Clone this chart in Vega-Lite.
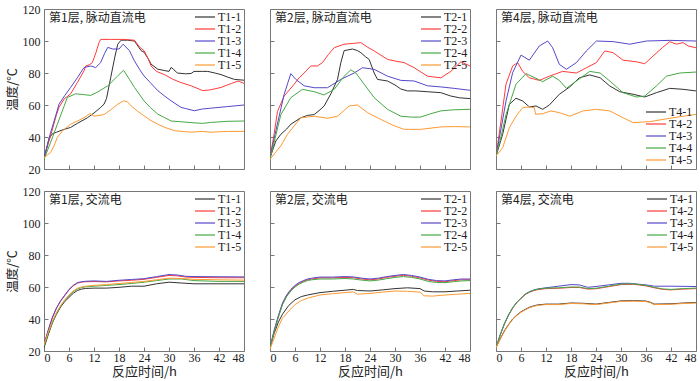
{
  "$schema": "https://vega.github.io/schema/vega-lite/v6.json",
  "padding": {"left": 5, "top": 2, "right": 0, "bottom": 0},
  "background": "white",
  "config": {
    "view": {"stroke": "#777", "strokeWidth": 1},
    "axis": {"domain": false, "grid": false, "tickColor": "#777", "tickSize": -4, "labelPadding": 8, "labelOverlap": false, "tickCount": 20,
      "labelFont": "Liberation Serif", "labelFontSize": 12, "labelColor": "#222",
      "titleFont": "Noto Sans CJK SC", "titleFontSize": 12.5, "titleFontWeight": "normal", "titleColor": "#222", "titlePadding": 3},
    "axisX": {"labelPadding": 5, "titlePadding": 2},
    "legend": {"labelFont": "Liberation Serif", "labelFontSize": 12, "labelColor": "#222", "symbolType": "M-3,0L1,0",
      "symbolSize": 100, "symbolStrokeWidth": 1.2, "rowPadding": -1.7, "padding": 0, "offset": 2, "labelOffset": 2, "title": null}
  },
  "data": {"values": [
    {"p":"a1","s":"T1-1","h":0,"v":26},{"p":"a1","s":"T1-1","h":1.2,"v":39},{"p":"a1","s":"T1-1","h":2,"v":42},{"p":"a1","s":"T1-1","h":3,"v":43},{"p":"a1","s":"T1-1","h":4.5,"v":44.5},{"p":"a1","s":"T1-1","h":6.4,"v":46},{"p":"a1","s":"T1-1","h":8,"v":48.5},{"p":"a1","s":"T1-1","h":10.4,"v":52},{"p":"a1","s":"T1-1","h":12,"v":55},{"p":"a1","s":"T1-1","h":13.6,"v":58.5},{"p":"a1","s":"T1-1","h":14.4,"v":60.5},{"p":"a1","s":"T1-1","h":15,"v":64},{"p":"a1","s":"T1-1","h":16,"v":77},{"p":"a1","s":"T1-1","h":17,"v":90},{"p":"a1","s":"T1-1","h":17.7,"v":98},{"p":"a1","s":"T1-1","h":18.5,"v":100.5},{"p":"a1","s":"T1-1","h":20,"v":100.5},{"p":"a1","s":"T1-1","h":21.7,"v":100},{"p":"a1","s":"T1-1","h":23.3,"v":94},{"p":"a1","s":"T1-1","h":24,"v":93},{"p":"a1","s":"T1-1","h":25,"v":89},{"p":"a1","s":"T1-1","h":25.7,"v":85.5},{"p":"a1","s":"T1-1","h":27.3,"v":82.4},{"p":"a1","s":"T1-1","h":29,"v":81.5},{"p":"a1","s":"T1-1","h":30,"v":81},{"p":"a1","s":"T1-1","h":30.5,"v":83.5},{"p":"a1","s":"T1-1","h":31,"v":82.5},{"p":"a1","s":"T1-1","h":32,"v":80},{"p":"a1","s":"T1-1","h":34,"v":79.5},{"p":"a1","s":"T1-1","h":35.3,"v":79.7},{"p":"a1","s":"T1-1","h":36,"v":81},{"p":"a1","s":"T1-1","h":38,"v":81},{"p":"a1","s":"T1-1","h":39.3,"v":81},{"p":"a1","s":"T1-1","h":41,"v":80},{"p":"a1","s":"T1-1","h":42.5,"v":79},{"p":"a1","s":"T1-1","h":44,"v":77.5},{"p":"a1","s":"T1-1","h":45.7,"v":76},{"p":"a1","s":"T1-1","h":48,"v":75.5},
    {"p":"a1","s":"T1-2","h":0,"v":27},{"p":"a1","s":"T1-2","h":1.5,"v":40},{"p":"a1","s":"T1-2","h":3,"v":54},{"p":"a1","s":"T1-2","h":3.6,"v":58.5},{"p":"a1","s":"T1-2","h":4.8,"v":63.7},{"p":"a1","s":"T1-2","h":6.4,"v":67},{"p":"a1","s":"T1-2","h":8,"v":74},{"p":"a1","s":"T1-2","h":9.6,"v":81.3},{"p":"a1","s":"T1-2","h":10,"v":84.4},{"p":"a1","s":"T1-2","h":10.8,"v":85},{"p":"a1","s":"T1-2","h":11.6,"v":86.5},{"p":"a1","s":"T1-2","h":12.5,"v":93},{"p":"a1","s":"T1-2","h":13.2,"v":99},{"p":"a1","s":"T1-2","h":13.6,"v":101},{"p":"a1","s":"T1-2","h":16,"v":101},{"p":"a1","s":"T1-2","h":19,"v":101},{"p":"a1","s":"T1-2","h":21.7,"v":100.5},{"p":"a1","s":"T1-2","h":23,"v":96},{"p":"a1","s":"T1-2","h":24,"v":94},{"p":"a1","s":"T1-2","h":25,"v":89},{"p":"a1","s":"T1-2","h":25.7,"v":84.4},{"p":"a1","s":"T1-2","h":27,"v":81},{"p":"a1","s":"T1-2","h":28.9,"v":79},{"p":"a1","s":"T1-2","h":31,"v":76},{"p":"a1","s":"T1-2","h":32.9,"v":74},{"p":"a1","s":"T1-2","h":35.3,"v":72},{"p":"a1","s":"T1-2","h":38.1,"v":69},{"p":"a1","s":"T1-2","h":40,"v":69.5},{"p":"a1","s":"T1-2","h":42.5,"v":71},{"p":"a1","s":"T1-2","h":45,"v":73.5},{"p":"a1","s":"T1-2","h":46.6,"v":75},{"p":"a1","s":"T1-2","h":48,"v":73.5},
    {"p":"a1","s":"T1-3","h":0,"v":27},{"p":"a1","s":"T1-3","h":1.5,"v":42},{"p":"a1","s":"T1-3","h":3,"v":55},{"p":"a1","s":"T1-3","h":3.6,"v":60.5},{"p":"a1","s":"T1-3","h":5,"v":66},{"p":"a1","s":"T1-3","h":6.4,"v":71},{"p":"a1","s":"T1-3","h":8,"v":77},{"p":"a1","s":"T1-3","h":9.6,"v":83.4},{"p":"a1","s":"T1-3","h":11.2,"v":84.4},{"p":"a1","s":"T1-3","h":12.4,"v":83.4},{"p":"a1","s":"T1-3","h":13.6,"v":86.5},{"p":"a1","s":"T1-3","h":14.5,"v":92},{"p":"a1","s":"T1-3","h":15.3,"v":96},{"p":"a1","s":"T1-3","h":16.5,"v":95},{"p":"a1","s":"T1-3","h":18,"v":95},{"p":"a1","s":"T1-3","h":19,"v":98},{"p":"a1","s":"T1-3","h":20.5,"v":94},{"p":"a1","s":"T1-3","h":21.7,"v":87.6},{"p":"a1","s":"T1-3","h":23,"v":82},{"p":"a1","s":"T1-3","h":24,"v":78.2},{"p":"a1","s":"T1-3","h":25.5,"v":74},{"p":"a1","s":"T1-3","h":27.3,"v":69},{"p":"a1","s":"T1-3","h":29,"v":65.5},{"p":"a1","s":"T1-3","h":30.5,"v":62.6},{"p":"a1","s":"T1-3","h":32.9,"v":58.5},{"p":"a1","s":"T1-3","h":34,"v":57.8},{"p":"a1","s":"T1-3","h":36.1,"v":56.4},{"p":"a1","s":"T1-3","h":38,"v":57.5},{"p":"a1","s":"T1-3","h":40,"v":58},{"p":"a1","s":"T1-3","h":44,"v":59},{"p":"a1","s":"T1-3","h":48,"v":60},
    {"p":"a1","s":"T1-4","h":0,"v":26},{"p":"a1","s":"T1-4","h":1.5,"v":36},{"p":"a1","s":"T1-4","h":3.2,"v":48},{"p":"a1","s":"T1-4","h":4.5,"v":57},{"p":"a1","s":"T1-4","h":5.6,"v":64.7},{"p":"a1","s":"T1-4","h":7.6,"v":67},{"p":"a1","s":"T1-4","h":9.5,"v":66.5},{"p":"a1","s":"T1-4","h":11.2,"v":66},{"p":"a1","s":"T1-4","h":12.8,"v":68},{"p":"a1","s":"T1-4","h":15.3,"v":72},{"p":"a1","s":"T1-4","h":17.7,"v":78.2},{"p":"a1","s":"T1-4","h":19.1,"v":81.7},{"p":"a1","s":"T1-4","h":20.5,"v":76},{"p":"a1","s":"T1-4","h":21.7,"v":71},{"p":"a1","s":"T1-4","h":24,"v":62.6},{"p":"a1","s":"T1-4","h":25.5,"v":58.5},{"p":"a1","s":"T1-4","h":27.3,"v":54.3},{"p":"a1","s":"T1-4","h":30.5,"v":50},{"p":"a1","s":"T1-4","h":33,"v":49.5},{"p":"a1","s":"T1-4","h":35.3,"v":49},{"p":"a1","s":"T1-4","h":38,"v":48.5},{"p":"a1","s":"T1-4","h":40,"v":49.1},{"p":"a1","s":"T1-4","h":44,"v":49.8},{"p":"a1","s":"T1-4","h":48,"v":50},
    {"p":"a1","s":"T1-5","h":0,"v":27},{"p":"a1","s":"T1-5","h":1.6,"v":30.4},{"p":"a1","s":"T1-5","h":2.5,"v":35},{"p":"a1","s":"T1-5","h":3.2,"v":39.8},{"p":"a1","s":"T1-5","h":4.5,"v":44},{"p":"a1","s":"T1-5","h":6.4,"v":48},{"p":"a1","s":"T1-5","h":8,"v":50},{"p":"a1","s":"T1-5","h":9.6,"v":52},{"p":"a1","s":"T1-5","h":11,"v":54.7},{"p":"a1","s":"T1-5","h":12,"v":53},{"p":"a1","s":"T1-5","h":14.4,"v":54},{"p":"a1","s":"T1-5","h":16,"v":57},{"p":"a1","s":"T1-5","h":17.7,"v":60.5},{"p":"a1","s":"T1-5","h":19.1,"v":62.6},{"p":"a1","s":"T1-5","h":20,"v":62},{"p":"a1","s":"T1-5","h":20.9,"v":59.5},{"p":"a1","s":"T1-5","h":22.5,"v":56},{"p":"a1","s":"T1-5","h":24,"v":53.3},{"p":"a1","s":"T1-5","h":25.5,"v":50.5},{"p":"a1","s":"T1-5","h":27.3,"v":48},{"p":"a1","s":"T1-5","h":29,"v":46},{"p":"a1","s":"T1-5","h":31.3,"v":44},{"p":"a1","s":"T1-5","h":33,"v":43.5},{"p":"a1","s":"T1-5","h":35.3,"v":43},{"p":"a1","s":"T1-5","h":38,"v":43.5},{"p":"a1","s":"T1-5","h":40,"v":43},{"p":"a1","s":"T1-5","h":44,"v":43.5},{"p":"a1","s":"T1-5","h":48,"v":43.5},

    {"p":"a2","s":"T2-1","h":0,"v":27},{"p":"a2","s":"T2-1","h":1.4,"v":37.5},{"p":"a2","s":"T2-1","h":2.6,"v":41.7},{"p":"a2","s":"T2-1","h":4,"v":45},{"p":"a2","s":"T2-1","h":5,"v":48},{"p":"a2","s":"T2-1","h":7.4,"v":52},{"p":"a2","s":"T2-1","h":9,"v":53.5},{"p":"a2","s":"T2-1","h":10.6,"v":54},{"p":"a2","s":"T2-1","h":12,"v":57},{"p":"a2","s":"T2-1","h":13,"v":59.4},{"p":"a2","s":"T2-1","h":14.6,"v":67},{"p":"a2","s":"T2-1","h":16.2,"v":76},{"p":"a2","s":"T2-1","h":17,"v":86.5},{"p":"a2","s":"T2-1","h":17.8,"v":94},{"p":"a2","s":"T2-1","h":19.8,"v":95},{"p":"a2","s":"T2-1","h":21,"v":94},{"p":"a2","s":"T2-1","h":21.8,"v":92.7},{"p":"a2","s":"T2-1","h":23,"v":90},{"p":"a2","s":"T2-1","h":23.8,"v":88.5},{"p":"a2","s":"T2-1","h":25,"v":80},{"p":"a2","s":"T2-1","h":25.8,"v":76},{"p":"a2","s":"T2-1","h":28.2,"v":75},{"p":"a2","s":"T2-1","h":30,"v":72.5},{"p":"a2","s":"T2-1","h":31.4,"v":70},{"p":"a2","s":"T2-1","h":33,"v":68.8},{"p":"a2","s":"T2-1","h":35,"v":68.8},{"p":"a2","s":"T2-1","h":37.8,"v":68.3},{"p":"a2","s":"T2-1","h":41,"v":67.7},{"p":"a2","s":"T2-1","h":43.4,"v":65.6},{"p":"a2","s":"T2-1","h":45.5,"v":64.5},{"p":"a2","s":"T2-1","h":48,"v":64},
    {"p":"a2","s":"T2-2","h":0,"v":27},{"p":"a2","s":"T2-2","h":1,"v":42},{"p":"a2","s":"T2-2","h":1.8,"v":56},{"p":"a2","s":"T2-2","h":3.4,"v":65.6},{"p":"a2","s":"T2-2","h":5.8,"v":73},{"p":"a2","s":"T2-2","h":7,"v":77},{"p":"a2","s":"T2-2","h":8.2,"v":80},{"p":"a2","s":"T2-2","h":9.8,"v":84.4},{"p":"a2","s":"T2-2","h":11.4,"v":84.4},{"p":"a2","s":"T2-2","h":12.6,"v":86.5},{"p":"a2","s":"T2-2","h":14,"v":91.5},{"p":"a2","s":"T2-2","h":15.4,"v":95.8},{"p":"a2","s":"T2-2","h":17.8,"v":98},{"p":"a2","s":"T2-2","h":20,"v":98.5},{"p":"a2","s":"T2-2","h":21.8,"v":99},{"p":"a2","s":"T2-2","h":23.5,"v":96},{"p":"a2","s":"T2-2","h":25,"v":93.8},{"p":"a2","s":"T2-2","h":28.2,"v":88.5},{"p":"a2","s":"T2-2","h":30,"v":87.5},{"p":"a2","s":"T2-2","h":32.2,"v":86.5},{"p":"a2","s":"T2-2","h":34.6,"v":83.3},{"p":"a2","s":"T2-2","h":37.8,"v":78},{"p":"a2","s":"T2-2","h":41,"v":77},{"p":"a2","s":"T2-2","h":43.4,"v":81},{"p":"a2","s":"T2-2","h":45.8,"v":87},{"p":"a2","s":"T2-2","h":48,"v":84.4},
    {"p":"a2","s":"T2-3","h":0,"v":27},{"p":"a2","s":"T2-3","h":1.5,"v":45},{"p":"a2","s":"T2-3","h":3.4,"v":66.7},{"p":"a2","s":"T2-3","h":4.3,"v":74},{"p":"a2","s":"T2-3","h":5,"v":79.6},{"p":"a2","s":"T2-3","h":6.2,"v":76},{"p":"a2","s":"T2-3","h":8.2,"v":72},{"p":"a2","s":"T2-3","h":10.6,"v":70.8},{"p":"a2","s":"T2-3","h":13.8,"v":70.8},{"p":"a2","s":"T2-3","h":17,"v":76},{"p":"a2","s":"T2-3","h":20.2,"v":80},{"p":"a2","s":"T2-3","h":22.2,"v":83.3},{"p":"a2","s":"T2-3","h":25,"v":82.3},{"p":"a2","s":"T2-3","h":28.2,"v":78},{"p":"a2","s":"T2-3","h":31.4,"v":75.4},{"p":"a2","s":"T2-3","h":34.6,"v":75},{"p":"a2","s":"T2-3","h":37.8,"v":72},{"p":"a2","s":"T2-3","h":41,"v":71.3},{"p":"a2","s":"T2-3","h":44.2,"v":70.4},{"p":"a2","s":"T2-3","h":48,"v":69.2},
    {"p":"a2","s":"T2-4","h":0,"v":26},{"p":"a2","s":"T2-4","h":1.3,"v":40},{"p":"a2","s":"T2-4","h":2.6,"v":54},{"p":"a2","s":"T2-4","h":5,"v":64.6},{"p":"a2","s":"T2-4","h":7.8,"v":69.8},{"p":"a2","s":"T2-4","h":10.6,"v":68.3},{"p":"a2","s":"T2-4","h":13,"v":66.3},{"p":"a2","s":"T2-4","h":15.4,"v":69.8},{"p":"a2","s":"T2-4","h":17.8,"v":78},{"p":"a2","s":"T2-4","h":19.4,"v":82},{"p":"a2","s":"T2-4","h":20.6,"v":80},{"p":"a2","s":"T2-4","h":22.6,"v":73},{"p":"a2","s":"T2-4","h":25,"v":64.6},{"p":"a2","s":"T2-4","h":28.2,"v":57.3},{"p":"a2","s":"T2-4","h":31.4,"v":53},{"p":"a2","s":"T2-4","h":34,"v":52.4},{"p":"a2","s":"T2-4","h":36.2,"v":52.5},{"p":"a2","s":"T2-4","h":38.5,"v":54.5},{"p":"a2","s":"T2-4","h":41,"v":56.3},{"p":"a2","s":"T2-4","h":44,"v":57},{"p":"a2","s":"T2-4","h":48,"v":57.3},
    {"p":"a2","s":"T2-5","h":0,"v":26},{"p":"a2","s":"T2-5","h":1.5,"v":31},{"p":"a2","s":"T2-5","h":2.6,"v":34.4},{"p":"a2","s":"T2-5","h":4.2,"v":41.7},{"p":"a2","s":"T2-5","h":5.8,"v":47},{"p":"a2","s":"T2-5","h":7.4,"v":52},{"p":"a2","s":"T2-5","h":10.6,"v":53},{"p":"a2","s":"T2-5","h":13.8,"v":51.7},{"p":"a2","s":"T2-5","h":16.2,"v":53},{"p":"a2","s":"T2-5","h":19,"v":59.4},{"p":"a2","s":"T2-5","h":21,"v":60},{"p":"a2","s":"T2-5","h":23.4,"v":55.2},{"p":"a2","s":"T2-5","h":26.6,"v":51},{"p":"a2","s":"T2-5","h":29.8,"v":47},{"p":"a2","s":"T2-5","h":32.2,"v":44.8},{"p":"a2","s":"T2-5","h":36.2,"v":44.8},{"p":"a2","s":"T2-5","h":41,"v":46.3},{"p":"a2","s":"T2-5","h":44,"v":46.5},{"p":"a2","s":"T2-5","h":48,"v":46.3},

    {"p":"a3","s":"T4-1","h":0,"v":28},{"p":"a3","s":"T4-1","h":1.6,"v":41.7},{"p":"a3","s":"T4-1","h":3.2,"v":60.4},{"p":"a3","s":"T4-1","h":4.8,"v":64.2},{"p":"a3","s":"T4-1","h":6.4,"v":62.5},{"p":"a3","s":"T4-1","h":8,"v":58.8},{"p":"a3","s":"T4-1","h":9.6,"v":59.4},{"p":"a3","s":"T4-1","h":11.2,"v":57.3},{"p":"a3","s":"T4-1","h":12.8,"v":60},{"p":"a3","s":"T4-1","h":15.2,"v":66.7},{"p":"a3","s":"T4-1","h":17.7,"v":71.3},{"p":"a3","s":"T4-1","h":20,"v":77},{"p":"a3","s":"T4-1","h":22.5,"v":78.8},{"p":"a3","s":"T4-1","h":25,"v":77},{"p":"a3","s":"T4-1","h":27.3,"v":71.9},{"p":"a3","s":"T4-1","h":29.7,"v":68.3},{"p":"a3","s":"T4-1","h":32.9,"v":66.7},{"p":"a3","s":"T4-1","h":35.7,"v":65},{"p":"a3","s":"T4-1","h":38.5,"v":67.7},{"p":"a3","s":"T4-1","h":41.7,"v":70.4},{"p":"a3","s":"T4-1","h":44.9,"v":69.8},{"p":"a3","s":"T4-1","h":48,"v":68.8},
    {"p":"a3","s":"T4-2","h":0,"v":28},{"p":"a3","s":"T4-2","h":1.2,"v":50},{"p":"a3","s":"T4-2","h":2.4,"v":73},{"p":"a3","s":"T4-2","h":4,"v":84.4},{"p":"a3","s":"T4-2","h":5.2,"v":86.5},{"p":"a3","s":"T4-2","h":6.4,"v":81},{"p":"a3","s":"T4-2","h":8,"v":77},{"p":"a3","s":"T4-2","h":10.4,"v":75.4},{"p":"a3","s":"T4-2","h":12.8,"v":78},{"p":"a3","s":"T4-2","h":16,"v":81},{"p":"a3","s":"T4-2","h":19.3,"v":80},{"p":"a3","s":"T4-2","h":21.7,"v":83.3},{"p":"a3","s":"T4-2","h":24.1,"v":86.5},{"p":"a3","s":"T4-2","h":26.1,"v":93.8},{"p":"a3","s":"T4-2","h":28.1,"v":92.7},{"p":"a3","s":"T4-2","h":30.5,"v":88},{"p":"a3","s":"T4-2","h":33.7,"v":87},{"p":"a3","s":"T4-2","h":35.7,"v":85.8},{"p":"a3","s":"T4-2","h":37.7,"v":90.6},{"p":"a3","s":"T4-2","h":40,"v":96},{"p":"a3","s":"T4-2","h":41.7,"v":99.6},{"p":"a3","s":"T4-2","h":43.3,"v":98},{"p":"a3","s":"T4-2","h":44.9,"v":99},{"p":"a3","s":"T4-2","h":46.1,"v":96.9},{"p":"a3","s":"T4-2","h":48,"v":95.8},
    {"p":"a3","s":"T4-3","h":0,"v":28},{"p":"a3","s":"T4-3","h":1.2,"v":45},{"p":"a3","s":"T4-3","h":2.4,"v":62.5},{"p":"a3","s":"T4-3","h":4,"v":80.2},{"p":"a3","s":"T4-3","h":6,"v":91.2},{"p":"a3","s":"T4-3","h":8,"v":88},{"p":"a3","s":"T4-3","h":10.4,"v":96.9},{"p":"a3","s":"T4-3","h":12.4,"v":100},{"p":"a3","s":"T4-3","h":13.6,"v":95.8},{"p":"a3","s":"T4-3","h":15.2,"v":85.4},{"p":"a3","s":"T4-3","h":16.9,"v":82.3},{"p":"a3","s":"T4-3","h":19.3,"v":86.5},{"p":"a3","s":"T4-3","h":21.7,"v":93.8},{"p":"a3","s":"T4-3","h":24.1,"v":100},{"p":"a3","s":"T4-3","h":28.1,"v":99.6},{"p":"a3","s":"T4-3","h":32.1,"v":98},{"p":"a3","s":"T4-3","h":36.1,"v":100},{"p":"a3","s":"T4-3","h":41.7,"v":100.4},{"p":"a3","s":"T4-3","h":48,"v":100},
    {"p":"a3","s":"T4-4","h":0,"v":28},{"p":"a3","s":"T4-4","h":1.2,"v":40},{"p":"a3","s":"T4-4","h":2.4,"v":54},{"p":"a3","s":"T4-4","h":4.8,"v":73},{"p":"a3","s":"T4-4","h":7.2,"v":79.6},{"p":"a3","s":"T4-4","h":9.6,"v":76.7},{"p":"a3","s":"T4-4","h":11.2,"v":74.6},{"p":"a3","s":"T4-4","h":13.6,"v":78},{"p":"a3","s":"T4-4","h":15.2,"v":75.4},{"p":"a3","s":"T4-4","h":16.9,"v":70.4},{"p":"a3","s":"T4-4","h":19.3,"v":75},{"p":"a3","s":"T4-4","h":22.5,"v":81},{"p":"a3","s":"T4-4","h":25,"v":80},{"p":"a3","s":"T4-4","h":27.3,"v":75},{"p":"a3","s":"T4-4","h":30.5,"v":67.7},{"p":"a3","s":"T4-4","h":33.7,"v":65},{"p":"a3","s":"T4-4","h":35.7,"v":65.6},{"p":"a3","s":"T4-4","h":38.5,"v":71.9},{"p":"a3","s":"T4-4","h":40.9,"v":78},{"p":"a3","s":"T4-4","h":44.1,"v":80},{"p":"a3","s":"T4-4","h":48,"v":80.6},
    {"p":"a3","s":"T4-5","h":0,"v":28},{"p":"a3","s":"T4-5","h":1.6,"v":33.3},{"p":"a3","s":"T4-5","h":3.2,"v":45.8},{"p":"a3","s":"T4-5","h":4.8,"v":53},{"p":"a3","s":"T4-5","h":6.4,"v":58.3},{"p":"a3","s":"T4-5","h":8,"v":58.8},{"p":"a3","s":"T4-5","h":9.2,"v":58.3},{"p":"a3","s":"T4-5","h":9.5,"v":54.2},{"p":"a3","s":"T4-5","h":11.2,"v":54.6},{"p":"a3","s":"T4-5","h":13.2,"v":56.3},{"p":"a3","s":"T4-5","h":15.2,"v":55.2},{"p":"a3","s":"T4-5","h":17.7,"v":53},{"p":"a3","s":"T4-5","h":20.9,"v":56.3},{"p":"a3","s":"T4-5","h":24.1,"v":57.3},{"p":"a3","s":"T4-5","h":27.3,"v":56.3},{"p":"a3","s":"T4-5","h":30.5,"v":52},{"p":"a3","s":"T4-5","h":32.9,"v":49},{"p":"a3","s":"T4-5","h":36.9,"v":49.6},{"p":"a3","s":"T4-5","h":41.7,"v":51.7},{"p":"a3","s":"T4-5","h":48,"v":54.2},

    {"p":"b1","s":"T1-1","h":0,"v":22},{"p":"b1","s":"T1-1","h":1,"v":30},{"p":"b1","s":"T1-1","h":2,"v":37.5},{"p":"b1","s":"T1-1","h":3,"v":43},{"p":"b1","s":"T1-1","h":4,"v":47.5},{"p":"b1","s":"T1-1","h":5,"v":51},{"p":"b1","s":"T1-1","h":6,"v":53.5},{"p":"b1","s":"T1-1","h":7,"v":56},{"p":"b1","s":"T1-1","h":8,"v":57.8},{"p":"b1","s":"T1-1","h":9,"v":58.7},{"p":"b1","s":"T1-1","h":10,"v":59.1},{"p":"b1","s":"T1-1","h":12,"v":59.3},{"p":"b1","s":"T1-1","h":15,"v":59.3},{"p":"b1","s":"T1-1","h":18,"v":59.8},{"p":"b1","s":"T1-1","h":21,"v":60.5},{"p":"b1","s":"T1-1","h":24,"v":60.5},{"p":"b1","s":"T1-1","h":27,"v":62},{"p":"b1","s":"T1-1","h":30,"v":63},{"p":"b1","s":"T1-1","h":33,"v":62.5},{"p":"b1","s":"T1-1","h":36,"v":62},{"p":"b1","s":"T1-1","h":42,"v":62},{"p":"b1","s":"T1-1","h":48,"v":62},
    {"p":"b1","s":"T1-2","h":0,"v":24},{"p":"b1","s":"T1-2","h":1,"v":32.7},{"p":"b1","s":"T1-2","h":2,"v":40.7},{"p":"b1","s":"T1-2","h":3,"v":46.7},{"p":"b1","s":"T1-2","h":4,"v":51.2},{"p":"b1","s":"T1-2","h":5,"v":54.7},{"p":"b1","s":"T1-2","h":6,"v":58.2},{"p":"b1","s":"T1-2","h":7,"v":60.7},{"p":"b1","s":"T1-2","h":8,"v":62.4},{"p":"b1","s":"T1-2","h":9,"v":63},{"p":"b1","s":"T1-2","h":10,"v":63.3},{"p":"b1","s":"T1-2","h":12,"v":63.4},{"p":"b1","s":"T1-2","h":15,"v":63.2},{"p":"b1","s":"T1-2","h":18,"v":63.8},{"p":"b1","s":"T1-2","h":21,"v":64.2},{"p":"b1","s":"T1-2","h":24,"v":64.8},{"p":"b1","s":"T1-2","h":27,"v":66},{"p":"b1","s":"T1-2","h":30,"v":67.2},{"p":"b1","s":"T1-2","h":32,"v":67},{"p":"b1","s":"T1-2","h":34,"v":66.2},{"p":"b1","s":"T1-2","h":36,"v":66},{"p":"b1","s":"T1-2","h":42,"v":65.8},{"p":"b1","s":"T1-2","h":48,"v":65.8},
    {"p":"b1","s":"T1-3","h":0,"v":24},{"p":"b1","s":"T1-3","h":1,"v":33},{"p":"b1","s":"T1-3","h":2,"v":41},{"p":"b1","s":"T1-3","h":3,"v":47},{"p":"b1","s":"T1-3","h":4,"v":51.5},{"p":"b1","s":"T1-3","h":5,"v":55},{"p":"b1","s":"T1-3","h":6,"v":58.5},{"p":"b1","s":"T1-3","h":7,"v":61},{"p":"b1","s":"T1-3","h":8,"v":62.7},{"p":"b1","s":"T1-3","h":9,"v":63.3},{"p":"b1","s":"T1-3","h":10,"v":63.6},{"p":"b1","s":"T1-3","h":12,"v":63.8},{"p":"b1","s":"T1-3","h":15,"v":63.5},{"p":"b1","s":"T1-3","h":18,"v":64.2},{"p":"b1","s":"T1-3","h":21,"v":64.7},{"p":"b1","s":"T1-3","h":24,"v":65.2},{"p":"b1","s":"T1-3","h":27,"v":66.5},{"p":"b1","s":"T1-3","h":30,"v":67.8},{"p":"b1","s":"T1-3","h":32,"v":67.5},{"p":"b1","s":"T1-3","h":34,"v":66.7},{"p":"b1","s":"T1-3","h":36,"v":66.5},{"p":"b1","s":"T1-3","h":42,"v":66.4},{"p":"b1","s":"T1-3","h":48,"v":66.3},
    {"p":"b1","s":"T1-4","h":0,"v":23},{"p":"b1","s":"T1-4","h":1,"v":31},{"p":"b1","s":"T1-4","h":2,"v":38},{"p":"b1","s":"T1-4","h":3,"v":43.5},{"p":"b1","s":"T1-4","h":4,"v":48},{"p":"b1","s":"T1-4","h":5,"v":51.5},{"p":"b1","s":"T1-4","h":6,"v":54.5},{"p":"b1","s":"T1-4","h":7,"v":57},{"p":"b1","s":"T1-4","h":8,"v":58.7},{"p":"b1","s":"T1-4","h":9,"v":59.6},{"p":"b1","s":"T1-4","h":10,"v":60.1},{"p":"b1","s":"T1-4","h":12,"v":60.5},{"p":"b1","s":"T1-4","h":15,"v":61},{"p":"b1","s":"T1-4","h":18,"v":61.5},{"p":"b1","s":"T1-4","h":21,"v":62.2},{"p":"b1","s":"T1-4","h":24,"v":63},{"p":"b1","s":"T1-4","h":27,"v":64},{"p":"b1","s":"T1-4","h":30,"v":65},{"p":"b1","s":"T1-4","h":33,"v":65},{"p":"b1","s":"T1-4","h":36,"v":64},{"p":"b1","s":"T1-4","h":42,"v":63.5},{"p":"b1","s":"T1-4","h":48,"v":63.5},
    {"p":"b1","s":"T1-5","h":0,"v":24},{"p":"b1","s":"T1-5","h":1,"v":31.5},{"p":"b1","s":"T1-5","h":2,"v":38.5},{"p":"b1","s":"T1-5","h":3,"v":44},{"p":"b1","s":"T1-5","h":4,"v":48.5},{"p":"b1","s":"T1-5","h":5,"v":52},{"p":"b1","s":"T1-5","h":6,"v":55},{"p":"b1","s":"T1-5","h":7,"v":57.5},{"p":"b1","s":"T1-5","h":8,"v":59.2},{"p":"b1","s":"T1-5","h":9,"v":60},{"p":"b1","s":"T1-5","h":10,"v":60.5},{"p":"b1","s":"T1-5","h":12,"v":61},{"p":"b1","s":"T1-5","h":15,"v":61.5},{"p":"b1","s":"T1-5","h":18,"v":62.2},{"p":"b1","s":"T1-5","h":21,"v":62.8},{"p":"b1","s":"T1-5","h":24,"v":63.5},{"p":"b1","s":"T1-5","h":27,"v":64.5},{"p":"b1","s":"T1-5","h":30,"v":65.5},{"p":"b1","s":"T1-5","h":33,"v":65.3},{"p":"b1","s":"T1-5","h":36,"v":64.8},{"p":"b1","s":"T1-5","h":42,"v":64.5},{"p":"b1","s":"T1-5","h":48,"v":64.3},

    {"p":"b2","s":"T2-1","h":0,"v":22},{"p":"b2","s":"T2-1","h":1,"v":31},{"p":"b2","s":"T2-1","h":2,"v":38},{"p":"b2","s":"T2-1","h":3,"v":43},{"p":"b2","s":"T2-1","h":4.5,"v":48.5},{"p":"b2","s":"T2-1","h":6,"v":52},{"p":"b2","s":"T2-1","h":7.5,"v":54},{"p":"b2","s":"T2-1","h":9,"v":55},{"p":"b2","s":"T2-1","h":12,"v":56.5},{"p":"b2","s":"T2-1","h":15,"v":57.3},{"p":"b2","s":"T2-1","h":18,"v":58},{"p":"b2","s":"T2-1","h":20,"v":58.5},{"p":"b2","s":"T2-1","h":21,"v":57.8},{"p":"b2","s":"T2-1","h":24,"v":57.5},{"p":"b2","s":"T2-1","h":27,"v":58.2},{"p":"b2","s":"T2-1","h":30,"v":59},{"p":"b2","s":"T2-1","h":33,"v":59.5},{"p":"b2","s":"T2-1","h":36,"v":59},{"p":"b2","s":"T2-1","h":37,"v":57.5},{"p":"b2","s":"T2-1","h":39,"v":57},{"p":"b2","s":"T2-1","h":42,"v":57},{"p":"b2","s":"T2-1","h":45,"v":57.5},{"p":"b2","s":"T2-1","h":48,"v":58},
    {"p":"b2","s":"T2-2","h":0,"v":22},{"p":"b2","s":"T2-2","h":1,"v":32.5},{"p":"b2","s":"T2-2","h":2,"v":41.5},{"p":"b2","s":"T2-2","h":3,"v":49.5},{"p":"b2","s":"T2-2","h":4,"v":54.5},{"p":"b2","s":"T2-2","h":5,"v":58},{"p":"b2","s":"T2-2","h":6,"v":60.5},{"p":"b2","s":"T2-2","h":7,"v":62.3},{"p":"b2","s":"T2-2","h":8,"v":63.5},{"p":"b2","s":"T2-2","h":9,"v":64.5},{"p":"b2","s":"T2-2","h":10,"v":65},{"p":"b2","s":"T2-2","h":12,"v":65.7},{"p":"b2","s":"T2-2","h":15,"v":65.7},{"p":"b2","s":"T2-2","h":18,"v":66},{"p":"b2","s":"T2-2","h":20,"v":65.8},{"p":"b2","s":"T2-2","h":22,"v":65},{"p":"b2","s":"T2-2","h":24,"v":64.5},{"p":"b2","s":"T2-2","h":26,"v":65},{"p":"b2","s":"T2-2","h":28,"v":66},{"p":"b2","s":"T2-2","h":30,"v":66.7},{"p":"b2","s":"T2-2","h":32,"v":67.3},{"p":"b2","s":"T2-2","h":34,"v":66.7},{"p":"b2","s":"T2-2","h":36,"v":65.7},{"p":"b2","s":"T2-2","h":38,"v":64.3},{"p":"b2","s":"T2-2","h":40,"v":63.5},{"p":"b2","s":"T2-2","h":42,"v":63.3},{"p":"b2","s":"T2-2","h":44,"v":64},{"p":"b2","s":"T2-2","h":46,"v":64.5},{"p":"b2","s":"T2-2","h":48,"v":64.5},
    {"p":"b2","s":"T2-3","h":0,"v":22},{"p":"b2","s":"T2-3","h":1,"v":33},{"p":"b2","s":"T2-3","h":2,"v":42},{"p":"b2","s":"T2-3","h":3,"v":50},{"p":"b2","s":"T2-3","h":4,"v":55},{"p":"b2","s":"T2-3","h":5,"v":58.5},{"p":"b2","s":"T2-3","h":6,"v":61},{"p":"b2","s":"T2-3","h":7,"v":62.8},{"p":"b2","s":"T2-3","h":8,"v":64},{"p":"b2","s":"T2-3","h":9,"v":65},{"p":"b2","s":"T2-3","h":10,"v":65.5},{"p":"b2","s":"T2-3","h":12,"v":66.2},{"p":"b2","s":"T2-3","h":15,"v":66.2},{"p":"b2","s":"T2-3","h":18,"v":66.5},{"p":"b2","s":"T2-3","h":20,"v":66.3},{"p":"b2","s":"T2-3","h":22,"v":65.5},{"p":"b2","s":"T2-3","h":24,"v":65},{"p":"b2","s":"T2-3","h":26,"v":65.5},{"p":"b2","s":"T2-3","h":28,"v":66.5},{"p":"b2","s":"T2-3","h":30,"v":67.2},{"p":"b2","s":"T2-3","h":32,"v":67.8},{"p":"b2","s":"T2-3","h":34,"v":67.2},{"p":"b2","s":"T2-3","h":36,"v":66.2},{"p":"b2","s":"T2-3","h":38,"v":64.8},{"p":"b2","s":"T2-3","h":40,"v":64},{"p":"b2","s":"T2-3","h":42,"v":63.8},{"p":"b2","s":"T2-3","h":44,"v":64.5},{"p":"b2","s":"T2-3","h":46,"v":65},{"p":"b2","s":"T2-3","h":48,"v":65},
    {"p":"b2","s":"T2-4","h":0,"v":22},{"p":"b2","s":"T2-4","h":1,"v":32},{"p":"b2","s":"T2-4","h":2,"v":41},{"p":"b2","s":"T2-4","h":3,"v":49},{"p":"b2","s":"T2-4","h":4,"v":54},{"p":"b2","s":"T2-4","h":5,"v":57.5},{"p":"b2","s":"T2-4","h":6,"v":60},{"p":"b2","s":"T2-4","h":7,"v":61.8},{"p":"b2","s":"T2-4","h":8,"v":63},{"p":"b2","s":"T2-4","h":9,"v":64},{"p":"b2","s":"T2-4","h":10,"v":64.5},{"p":"b2","s":"T2-4","h":12,"v":65},{"p":"b2","s":"T2-4","h":15,"v":65},{"p":"b2","s":"T2-4","h":18,"v":65.3},{"p":"b2","s":"T2-4","h":20,"v":65},{"p":"b2","s":"T2-4","h":22,"v":64.3},{"p":"b2","s":"T2-4","h":24,"v":63.8},{"p":"b2","s":"T2-4","h":26,"v":64.3},{"p":"b2","s":"T2-4","h":28,"v":65.2},{"p":"b2","s":"T2-4","h":30,"v":66},{"p":"b2","s":"T2-4","h":32,"v":66.5},{"p":"b2","s":"T2-4","h":34,"v":66},{"p":"b2","s":"T2-4","h":36,"v":65},{"p":"b2","s":"T2-4","h":38,"v":63.5},{"p":"b2","s":"T2-4","h":40,"v":62.8},{"p":"b2","s":"T2-4","h":42,"v":62.7},{"p":"b2","s":"T2-4","h":44,"v":63.3},{"p":"b2","s":"T2-4","h":46,"v":63.8},{"p":"b2","s":"T2-4","h":48,"v":64},
    {"p":"b2","s":"T2-5","h":0,"v":21},{"p":"b2","s":"T2-5","h":1,"v":28},{"p":"b2","s":"T2-5","h":2,"v":35},{"p":"b2","s":"T2-5","h":3,"v":40.5},{"p":"b2","s":"T2-5","h":4.5,"v":45},{"p":"b2","s":"T2-5","h":6,"v":49},{"p":"b2","s":"T2-5","h":7.5,"v":51.5},{"p":"b2","s":"T2-5","h":9,"v":53},{"p":"b2","s":"T2-5","h":12,"v":55},{"p":"b2","s":"T2-5","h":15,"v":55.8},{"p":"b2","s":"T2-5","h":18,"v":56.5},{"p":"b2","s":"T2-5","h":20,"v":57},{"p":"b2","s":"T2-5","h":21,"v":55.5},{"p":"b2","s":"T2-5","h":24,"v":56},{"p":"b2","s":"T2-5","h":27,"v":56.8},{"p":"b2","s":"T2-5","h":30,"v":57.5},{"p":"b2","s":"T2-5","h":33,"v":57.3},{"p":"b2","s":"T2-5","h":36,"v":56.8},{"p":"b2","s":"T2-5","h":37,"v":54.5},{"p":"b2","s":"T2-5","h":39,"v":54.3},{"p":"b2","s":"T2-5","h":42,"v":55},{"p":"b2","s":"T2-5","h":45,"v":55.5},{"p":"b2","s":"T2-5","h":48,"v":56},

    {"p":"b3","s":"T4-1","h":0,"v":22},{"p":"b3","s":"T4-1","h":1,"v":27.5},{"p":"b3","s":"T4-1","h":2,"v":32.5},{"p":"b3","s":"T4-1","h":3,"v":36.5},{"p":"b3","s":"T4-1","h":4,"v":40},{"p":"b3","s":"T4-1","h":5,"v":42.5},{"p":"b3","s":"T4-1","h":6,"v":44.5},{"p":"b3","s":"T4-1","h":7,"v":46},{"p":"b3","s":"T4-1","h":8,"v":47.3},{"p":"b3","s":"T4-1","h":9,"v":48.2},{"p":"b3","s":"T4-1","h":10,"v":48.8},{"p":"b3","s":"T4-1","h":12,"v":49.3},{"p":"b3","s":"T4-1","h":15,"v":49.3},{"p":"b3","s":"T4-1","h":18,"v":50},{"p":"b3","s":"T4-1","h":21,"v":49.8},{"p":"b3","s":"T4-1","h":24,"v":49.3},{"p":"b3","s":"T4-1","h":27,"v":50.3},{"p":"b3","s":"T4-1","h":30,"v":51.3},{"p":"b3","s":"T4-1","h":33,"v":51.5},{"p":"b3","s":"T4-1","h":36,"v":51.2},{"p":"b3","s":"T4-1","h":37,"v":50.5},{"p":"b3","s":"T4-1","h":38,"v":49.3},{"p":"b3","s":"T4-1","h":42,"v":49.5},{"p":"b3","s":"T4-1","h":45,"v":50},{"p":"b3","s":"T4-1","h":48,"v":50.3},
    {"p":"b3","s":"T4-2","h":0,"v":22},{"p":"b3","s":"T4-2","h":1,"v":29.8},{"p":"b3","s":"T4-2","h":2,"v":36.8},{"p":"b3","s":"T4-2","h":3,"v":42.3},{"p":"b3","s":"T4-2","h":4,"v":46.8},{"p":"b3","s":"T4-2","h":5,"v":50.3},{"p":"b3","s":"T4-2","h":6,"v":52.8},{"p":"b3","s":"T4-2","h":7,"v":55.2},{"p":"b3","s":"T4-2","h":8,"v":56.7},{"p":"b3","s":"T4-2","h":9,"v":57.7},{"p":"b3","s":"T4-2","h":10,"v":58.3},{"p":"b3","s":"T4-2","h":12,"v":59},{"p":"b3","s":"T4-2","h":15,"v":59.2},{"p":"b3","s":"T4-2","h":18,"v":59.7},{"p":"b3","s":"T4-2","h":20,"v":59.7},{"p":"b3","s":"T4-2","h":22,"v":58.7},{"p":"b3","s":"T4-2","h":24,"v":58.9},{"p":"b3","s":"T4-2","h":27,"v":60.2},{"p":"b3","s":"T4-2","h":30,"v":61.5},{"p":"b3","s":"T4-2","h":33,"v":61.7},{"p":"b3","s":"T4-2","h":36,"v":60.7},{"p":"b3","s":"T4-2","h":38,"v":59.5},{"p":"b3","s":"T4-2","h":40,"v":58.5},{"p":"b3","s":"T4-2","h":42,"v":58.2},{"p":"b3","s":"T4-2","h":45,"v":58.7},{"p":"b3","s":"T4-2","h":48,"v":59},
    {"p":"b3","s":"T4-3","h":0,"v":22},{"p":"b3","s":"T4-3","h":1,"v":30},{"p":"b3","s":"T4-3","h":2,"v":37},{"p":"b3","s":"T4-3","h":3,"v":42.5},{"p":"b3","s":"T4-3","h":4,"v":47},{"p":"b3","s":"T4-3","h":5,"v":50.5},{"p":"b3","s":"T4-3","h":6,"v":53},{"p":"b3","s":"T4-3","h":7,"v":55.5},{"p":"b3","s":"T4-3","h":8,"v":57},{"p":"b3","s":"T4-3","h":9,"v":58},{"p":"b3","s":"T4-3","h":10,"v":58.8},{"p":"b3","s":"T4-3","h":12,"v":59.5},{"p":"b3","s":"T4-3","h":15,"v":60.5},{"p":"b3","s":"T4-3","h":18,"v":61.5},{"p":"b3","s":"T4-3","h":20,"v":61.3},{"p":"b3","s":"T4-3","h":22,"v":59.8},{"p":"b3","s":"T4-3","h":24,"v":60.3},{"p":"b3","s":"T4-3","h":27,"v":61.3},{"p":"b3","s":"T4-3","h":30,"v":62.3},{"p":"b3","s":"T4-3","h":32,"v":62.3},{"p":"b3","s":"T4-3","h":34,"v":61.8},{"p":"b3","s":"T4-3","h":36,"v":61.3},{"p":"b3","s":"T4-3","h":38,"v":60.5},{"p":"b3","s":"T4-3","h":42,"v":60.5},{"p":"b3","s":"T4-3","h":48,"v":60.3},
    {"p":"b3","s":"T4-4","h":0,"v":22},{"p":"b3","s":"T4-4","h":1,"v":30},{"p":"b3","s":"T4-4","h":2,"v":37},{"p":"b3","s":"T4-4","h":3,"v":42.5},{"p":"b3","s":"T4-4","h":4,"v":47},{"p":"b3","s":"T4-4","h":5,"v":50.5},{"p":"b3","s":"T4-4","h":6,"v":53},{"p":"b3","s":"T4-4","h":7,"v":55.5},{"p":"b3","s":"T4-4","h":8,"v":57},{"p":"b3","s":"T4-4","h":9,"v":58},{"p":"b3","s":"T4-4","h":10,"v":58.6},{"p":"b3","s":"T4-4","h":12,"v":59.3},{"p":"b3","s":"T4-4","h":15,"v":59.5},{"p":"b3","s":"T4-4","h":18,"v":60},{"p":"b3","s":"T4-4","h":20,"v":60},{"p":"b3","s":"T4-4","h":22,"v":59},{"p":"b3","s":"T4-4","h":24,"v":59.2},{"p":"b3","s":"T4-4","h":27,"v":60.5},{"p":"b3","s":"T4-4","h":30,"v":61.8},{"p":"b3","s":"T4-4","h":33,"v":62},{"p":"b3","s":"T4-4","h":36,"v":61},{"p":"b3","s":"T4-4","h":38,"v":59.8},{"p":"b3","s":"T4-4","h":40,"v":58.8},{"p":"b3","s":"T4-4","h":42,"v":58.5},{"p":"b3","s":"T4-4","h":45,"v":59},{"p":"b3","s":"T4-4","h":48,"v":59.3},
    {"p":"b3","s":"T4-5","h":0,"v":22},{"p":"b3","s":"T4-5","h":1,"v":27.2},{"p":"b3","s":"T4-5","h":2,"v":32.2},{"p":"b3","s":"T4-5","h":3,"v":36.2},{"p":"b3","s":"T4-5","h":4,"v":39.7},{"p":"b3","s":"T4-5","h":5,"v":42.2},{"p":"b3","s":"T4-5","h":6,"v":44.2},{"p":"b3","s":"T4-5","h":7,"v":45.7},{"p":"b3","s":"T4-5","h":8,"v":47},{"p":"b3","s":"T4-5","h":9,"v":47.9},{"p":"b3","s":"T4-5","h":10,"v":48.5},{"p":"b3","s":"T4-5","h":12,"v":49},{"p":"b3","s":"T4-5","h":15,"v":49},{"p":"b3","s":"T4-5","h":18,"v":49.7},{"p":"b3","s":"T4-5","h":21,"v":49.5},{"p":"b3","s":"T4-5","h":24,"v":49},{"p":"b3","s":"T4-5","h":27,"v":50},{"p":"b3","s":"T4-5","h":30,"v":51},{"p":"b3","s":"T4-5","h":33,"v":51.2},{"p":"b3","s":"T4-5","h":36,"v":50.9},{"p":"b3","s":"T4-5","h":37,"v":50.2},{"p":"b3","s":"T4-5","h":38,"v":49},{"p":"b3","s":"T4-5","h":42,"v":49.2},{"p":"b3","s":"T4-5","h":45,"v":49.7},{"p":"b3","s":"T4-5","h":48,"v":50}
  ]},
  "columns": 3,
  "spacing": {"row": 22, "column": 26},
  "bounds": "flush",
  "resolve": {"scale": {"color": "independent", "x": "independent", "y": "independent"}, "legend": {"color": "independent"}},
  "concat": [
    {"width": 200, "height": 160, "layer": [
      {"transform": [{"filter": "datum.p === 'a1'"}], "mark": {"type": "line", "strokeWidth": 1, "clip": true},
       "encoding": {
         "x": {"field": "h", "type": "quantitative", "scale": {"domain": [0, 48], "nice": false}, "axis": {"values": [0,6,12,18,24,30,36,42,48], "tickCount": 20, "labels": false, "title": null}},
         "y": {"field": "v", "type": "quantitative", "scale": {"domain": [20, 120], "nice": false}, "axis": {"values": [20,40,60,80,100,120], "tickCount": 20, "title": "温度/℃"}},
         "color": {"field": "s", "type": "nominal", "scale": {"domain": ["T1-1","T1-2","T1-3","T1-4","T1-5"], "range": ["#333333","#ff3b3b","#5548c8","#45a845","#ff9933"]}, "legend": {"orient": "top-right"}}}},
      {"data": {"values": [{"label": "第1层, 脉动直流电"}]}, "mark": {"type": "text", "align": "left", "baseline": "middle", "font": "Noto Sans CJK SC", "fontSize": 12, "color": "#222"},
       "encoding": {"x": {"datum": 1.2}, "y": {"datum": 114.4}, "text": {"field": "label"}}}
    ]},
    {"width": 200, "height": 160, "layer": [
      {"transform": [{"filter": "datum.p === 'a2'"}], "mark": {"type": "line", "strokeWidth": 1, "clip": true},
       "encoding": {
         "x": {"field": "h", "type": "quantitative", "scale": {"domain": [0, 48], "nice": false}, "axis": {"values": [0,6,12,18,24,30,36,42,48], "tickCount": 20, "labels": false, "title": null}},
         "y": {"field": "v", "type": "quantitative", "scale": {"domain": [20, 120], "nice": false}, "axis": {"values": [20,40,60,80,100,120], "tickCount": 20, "labels": false, "title": null}},
         "color": {"field": "s", "type": "nominal", "scale": {"domain": ["T2-1","T2-2","T2-3","T2-4","T2-5"], "range": ["#333333","#ff3b3b","#5548c8","#45a845","#ff9933"]}, "legend": {"orient": "top-right"}}}},
      {"data": {"values": [{"label": "第2层, 脉动直流电"}]}, "mark": {"type": "text", "align": "left", "baseline": "middle", "font": "Noto Sans CJK SC", "fontSize": 12, "color": "#222"},
       "encoding": {"x": {"datum": 1.2}, "y": {"datum": 114.4}, "text": {"field": "label"}}}
    ]},
    {"width": 200, "height": 160, "layer": [
      {"transform": [{"filter": "datum.p === 'a3'"}], "mark": {"type": "line", "strokeWidth": 1, "clip": true},
       "encoding": {
         "x": {"field": "h", "type": "quantitative", "scale": {"domain": [0, 48], "nice": false}, "axis": {"values": [0,6,12,18,24,30,36,42,48], "tickCount": 20, "labels": false, "title": null}},
         "y": {"field": "v", "type": "quantitative", "scale": {"domain": [20, 120], "nice": false}, "axis": {"values": [20,40,60,80,100,120], "tickCount": 20, "labels": false, "title": null}},
         "color": {"field": "s", "type": "nominal", "scale": {"domain": ["T4-1","T4-2","T4-3","T4-4","T4-5"], "range": ["#333333","#ff3b3b","#5548c8","#45a845","#ff9933"]}, "legend": {"orient": "bottom-right", "offset": 3}}}},
      {"data": {"values": [{"label": "第4层, 脉动直流电"}]}, "mark": {"type": "text", "align": "left", "baseline": "middle", "font": "Noto Sans CJK SC", "fontSize": 12, "color": "#222"},
       "encoding": {"x": {"datum": 1.2}, "y": {"datum": 114.4}, "text": {"field": "label"}}}
    ]},
    {"width": 200, "height": 160, "layer": [
      {"transform": [{"filter": "datum.p === 'b1'"}], "mark": {"type": "line", "strokeWidth": 1, "clip": true},
       "encoding": {
         "x": {"field": "h", "type": "quantitative", "scale": {"domain": [0, 48], "nice": false}, "axis": {"values": [0,6,12,18,24,30,36,42,48], "tickCount": 20, "title": "反应时间/h", "titleFontSize": 13}},
         "y": {"field": "v", "type": "quantitative", "scale": {"domain": [20, 120], "nice": false}, "axis": {"values": [20,40,60,80,100,120], "tickCount": 20, "title": "温度/℃"}},
         "color": {"field": "s", "type": "nominal", "scale": {"domain": ["T1-1","T1-2","T1-3","T1-4","T1-5"], "range": ["#333333","#ff3b3b","#5548c8","#45a845","#ff9933"]}, "legend": {"orient": "top-right"}}}},
      {"data": {"values": [{"label": "第1层, 交流电"}]}, "mark": {"type": "text", "align": "left", "baseline": "middle", "font": "Noto Sans CJK SC", "fontSize": 12, "color": "#222"},
       "encoding": {"x": {"datum": 1.2}, "y": {"datum": 114.4}, "text": {"field": "label"}}}
    ]},
    {"width": 200, "height": 160, "layer": [
      {"transform": [{"filter": "datum.p === 'b2'"}], "mark": {"type": "line", "strokeWidth": 1, "clip": true},
       "encoding": {
         "x": {"field": "h", "type": "quantitative", "scale": {"domain": [0, 48], "nice": false}, "axis": {"values": [0,6,12,18,24,30,36,42,48], "tickCount": 20, "title": "反应时间/h", "titleFontSize": 13}},
         "y": {"field": "v", "type": "quantitative", "scale": {"domain": [20, 120], "nice": false}, "axis": {"values": [20,40,60,80,100,120], "tickCount": 20, "labels": false, "title": null}},
         "color": {"field": "s", "type": "nominal", "scale": {"domain": ["T2-1","T2-2","T2-3","T2-4","T2-5"], "range": ["#333333","#ff3b3b","#5548c8","#45a845","#ff9933"]}, "legend": {"orient": "top-right"}}}},
      {"data": {"values": [{"label": "第2层, 交流电"}]}, "mark": {"type": "text", "align": "left", "baseline": "middle", "font": "Noto Sans CJK SC", "fontSize": 12, "color": "#222"},
       "encoding": {"x": {"datum": 1.2}, "y": {"datum": 114.4}, "text": {"field": "label"}}}
    ]},
    {"width": 200, "height": 160, "layer": [
      {"transform": [{"filter": "datum.p === 'b3'"}], "mark": {"type": "line", "strokeWidth": 1, "clip": true},
       "encoding": {
         "x": {"field": "h", "type": "quantitative", "scale": {"domain": [0, 48], "nice": false}, "axis": {"values": [0,6,12,18,24,30,36,42,48], "tickCount": 20, "title": "反应时间/h", "titleFontSize": 13}},
         "y": {"field": "v", "type": "quantitative", "scale": {"domain": [20, 120], "nice": false}, "axis": {"values": [20,40,60,80,100,120], "tickCount": 20, "labels": false, "title": null}},
         "color": {"field": "s", "type": "nominal", "scale": {"domain": ["T4-1","T4-2","T4-3","T4-4","T4-5"], "range": ["#333333","#ff3b3b","#5548c8","#45a845","#ff9933"]}, "legend": {"orient": "top-right"}}}},
      {"data": {"values": [{"label": "第4层, 交流电"}]}, "mark": {"type": "text", "align": "left", "baseline": "middle", "font": "Noto Sans CJK SC", "fontSize": 12, "color": "#222"},
       "encoding": {"x": {"datum": 1.2}, "y": {"datum": 114.4}, "text": {"field": "label"}}}
    ]}
  ]
}
